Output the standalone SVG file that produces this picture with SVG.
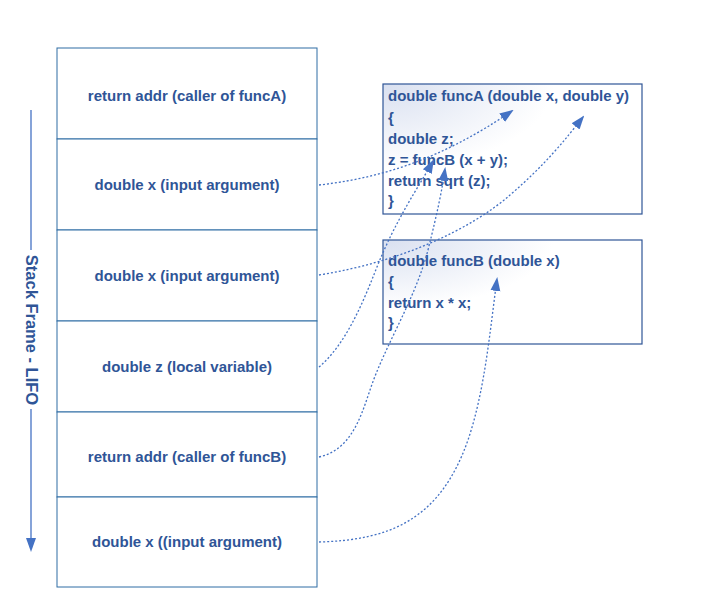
<svg xmlns="http://www.w3.org/2000/svg" width="720" height="613" viewBox="0 0 720 613">
<defs>
<radialGradient id="g" cx="0" cy="0" r="1.1" gradientUnits="objectBoundingBox">
<stop offset="0" stop-color="#d9e0f0"/>
<stop offset="0.6" stop-color="#ffffff"/>
<stop offset="1" stop-color="#ffffff"/>
</radialGradient>
<marker id="ah2" markerWidth="14" markerHeight="12" refX="12" refY="5" orient="auto" markerUnits="userSpaceOnUse" viewBox="0 0 14 10">
<path d="M0,0 L14,5 L0,10 Z" fill="#4472c4"/>
</marker>
<style>
.lbl{font-family:"Liberation Sans",Arial,sans-serif;font-weight:bold;font-size:15px;fill:#2f5597;}
.code{font-family:"Liberation Sans",Arial,sans-serif;font-weight:bold;font-size:15px;fill:#2f5597;}
.cell{fill:#ffffff;stroke:#2e6ca4;stroke-width:1;}
.cbox{fill:url(#g);stroke:#2f5597;stroke-width:1.2;}
.con{fill:none;stroke:#4472c4;stroke-width:1.3;stroke-dasharray:2 2;marker-end:url(#ah2);}
</style>
</defs>
<rect width="720" height="613" fill="#ffffff"/>

<g id="stack-arrow">
<line x1="31" y1="110" x2="31" y2="250" stroke="#4472c4" stroke-width="1.3"/>
<line x1="31" y1="409" x2="31" y2="540" stroke="#4472c4" stroke-width="1.3"/>
<path d="M26,538 L36,538 L31,552 Z" fill="#4472c4"/>
<text class="lbl" x="0" y="0" transform="translate(25.5,330) rotate(90)" text-anchor="middle" style="font-size:16.5px">Stack Frame - LIFO</text>
</g>

<g id="row1"><rect class="cell" x="57" y="48" width="260" height="91"/><text class="lbl" x="187" y="101" text-anchor="middle">return addr (caller of funcA)</text></g>
<g id="row2"><rect class="cell" x="57" y="139" width="260" height="91"/><text class="lbl" x="187" y="190" text-anchor="middle">double x (input argument)</text></g>
<g id="row3"><rect class="cell" x="57" y="230" width="260" height="91"/><text class="lbl" x="187" y="281" text-anchor="middle">double x (input argument)</text></g>
<g id="row4"><rect class="cell" x="57" y="321" width="260" height="91"/><text class="lbl" x="187" y="372" text-anchor="middle">double z (local variable)</text></g>
<g id="row5"><rect class="cell" x="57" y="412" width="260" height="85"/><text class="lbl" x="187" y="462" text-anchor="middle">return addr (caller of funcB)</text></g>
<g id="row6"><rect class="cell" x="57" y="497" width="260" height="90"/><text class="lbl" x="187" y="547" text-anchor="middle">double x ((input argument)</text></g>

<g id="funcA">
<rect class="cbox" x="383" y="84" width="259" height="130"/>
<text class="code" x="388" y="101">double funcA (double x, double y)</text>
<text class="code" x="388" y="123">{</text>
<text class="code" x="388" y="144">double z;</text>
<text class="code" x="388" y="165">z = funcB (x + y);</text>
<text class="code" x="388" y="186">return sqrt (z);</text>
<text class="code" x="388" y="206">}</text>
</g>

<g id="funcB">
<rect class="cbox" x="383" y="240" width="259" height="104"/>
<text class="code" x="388" y="266">double funcB (double x)</text>
<text class="code" x="388" y="287">{</text>
<text class="code" x="388" y="308">return x * x;</text>
<text class="code" x="388" y="328">}</text>
</g>

<g id="connectors">
<path class="con" d="M319,185 C380,178 440,160 512,111"/>
<path class="con" d="M319,275 C400,262 470,230 510,195 C545,165 565,140 583,117"/>
<path class="con" d="M319,367 C345,345 362,305 375,272 C395,220 420,185 433,161"/>
<path class="con" d="M319,457 C350,450 360,420 370,390 C385,345 415,300 428,250 C438,210 442,190 445,169"/>
<path class="con" d="M319,542 C390,540 440,520 468,440 C485,390 490,330 497,279"/>
</g>
</svg>
